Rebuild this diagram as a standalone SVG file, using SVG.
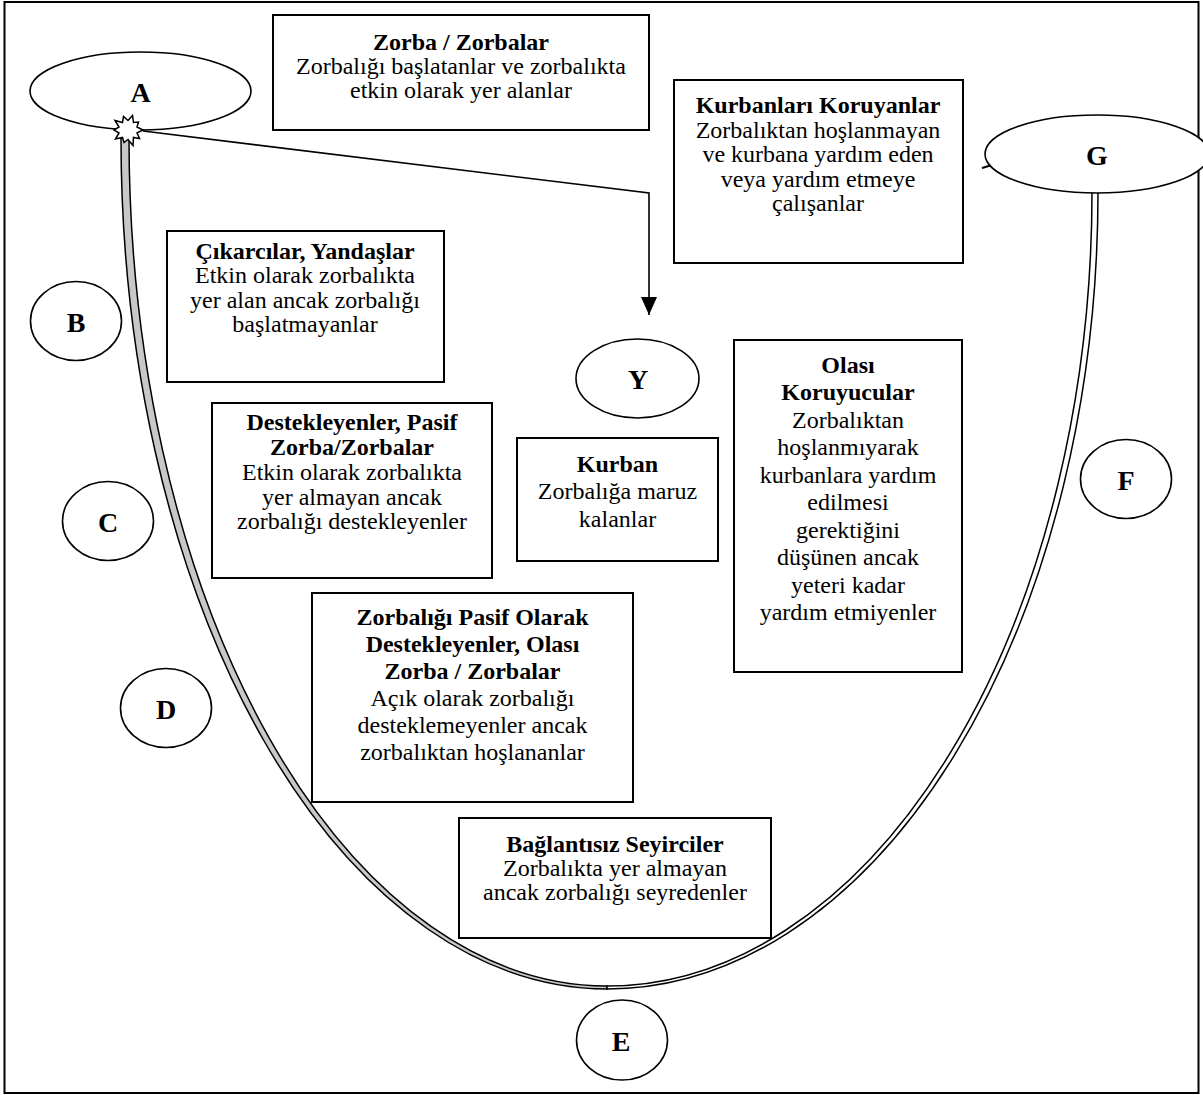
<svg xmlns="http://www.w3.org/2000/svg" width="1203" height="1095" viewBox="0 0 1203 1095">
<defs>
<style>
.frame{fill:#fff;stroke:#000;stroke-width:2}
.box{fill:#fff;stroke:#000;stroke-width:2}
.ell{fill:#fff;stroke:#000;stroke-width:1.6}
.t{font-family:"Liberation Serif","Times New Roman",serif;font-size:24px;fill:#000;text-anchor:middle}
.b{font-weight:bold}
.lbl{font-family:"Liberation Serif","Times New Roman",serif;font-size:28px;font-weight:bold;fill:#000;text-anchor:middle}
.conn{fill:none;stroke:#000;stroke-width:1.6}
</style>
<marker id="arr" markerUnits="userSpaceOnUse" markerWidth="18" markerHeight="16" refX="18" refY="8" orient="auto" viewBox="0 0 18 16">
<path d="M0,0 L18,8 L0,16 Z" fill="#000"/>
</marker>
</defs>
<rect class="frame" x="4.5" y="2" width="1194" height="1091"/>

<g id="curve">
<path d="M121,138 A486,851 0 0 0 607,989 L607,986 A478,848 0 0 1 129,138 Z" fill="#c8c8c8" stroke="#000" stroke-width="1.5"/>
<path d="M607,989 A491,797 0 0 0 1098,192 L1092,192 A485,794 0 0 1 607,986 Z" fill="#fff" stroke="#000" stroke-width="1.5"/>
<path d="M982,168 L992,165" stroke="#000" stroke-width="2" fill="none"/>
</g>

<g id="connectors">
<polyline class="conn" points="143,131 649,193 649,315" marker-end="url(#arr)"/>
</g>

<g id="node-A"><ellipse class="ell" cx="140.5" cy="91" rx="110.5" ry="39"/><text class="lbl" x="140.5" y="102">A</text></g>

<g id="star">
<polygon points="143,130 137,132.8 139.5,138.5 133.5,137.5 133,145.5 128,139.5 124,142.5 122.5,137.5 115.5,139 119,133 114,130 119,127 115,120.5 122.5,122.5 123.5,116.5 128,120.5 132.5,115.5 133.5,122.5 138.5,122 137,127" fill="#fff" stroke="#000" stroke-width="1.5" stroke-linejoin="miter"/>
</g>

<g id="node-B"><ellipse class="ell" cx="76" cy="321" rx="45.5" ry="39.5"/><text class="lbl" x="76" y="332">B</text></g>
<g id="node-C"><ellipse class="ell" cx="108" cy="521" rx="45.5" ry="39.5"/><text class="lbl" x="108" y="532">C</text></g>
<g id="node-D"><ellipse class="ell" cx="166" cy="708" rx="45.5" ry="39.5"/><text class="lbl" x="166" y="719">D</text></g>
<g id="node-E"><ellipse class="ell" cx="622" cy="1040" rx="45.5" ry="40"/><text class="lbl" x="621" y="1051">E</text></g>
<g id="node-F"><ellipse class="ell" cx="1126" cy="479" rx="45.5" ry="39.5"/><text class="lbl" x="1126" y="490">F</text></g>
<g id="node-G"><ellipse class="ell" cx="1097" cy="154" rx="112" ry="39"/><text class="lbl" x="1097" y="165">G</text></g>
<g id="node-Y"><ellipse class="ell" cx="637.5" cy="378.5" rx="61.5" ry="39.5"/><text class="lbl" x="638" y="389">Y</text></g>

<g id="box-zorba">
<rect class="box" x="273" y="15" width="376" height="115"/>
<text class="t b" x="461" y="49.5">Zorba / Zorbalar</text>
<text class="t" x="461" y="73.5">Zorbalığı başlatanlar ve zorbalıkta</text>
<text class="t" x="461" y="97.5">etkin olarak yer alanlar</text>
</g>

<g id="box-koruyanlar">
<rect class="box" x="674" y="80" width="289" height="183"/>
<text class="t b" x="818" y="113">Kurbanları Koruyanlar</text>
<text class="t" x="818" y="138">Zorbalıktan hoşlanmayan</text>
<text class="t" x="818" y="162">ve kurbana yardım eden</text>
<text class="t" x="818" y="187">veya yardım etmeye</text>
<text class="t" x="818" y="211">çalışanlar</text>
</g>

<g id="box-cikarcilar">
<rect class="box" x="167" y="231" width="277" height="151"/>
<text class="t b" x="305" y="259">Çıkarcılar, Yandaşlar</text>
<text class="t" x="305" y="283">Etkin olarak zorbalıkta</text>
<text class="t" x="305" y="308">yer alan ancak zorbalığı</text>
<text class="t" x="305" y="332">başlatmayanlar</text>
</g>

<g id="box-destekleyenler">
<rect class="box" x="212" y="403" width="280" height="175"/>
<text class="t b" x="352" y="430">Destekleyenler, Pasif</text>
<text class="t b" x="352" y="455">Zorba/Zorbalar</text>
<text class="t" x="352" y="480">Etkin olarak zorbalıkta</text>
<text class="t" x="352" y="505">yer almayan ancak</text>
<text class="t" x="352" y="529">zorbalığı destekleyenler</text>
</g>

<g id="box-kurban">
<rect class="box" x="517" y="438" width="201" height="123"/>
<text class="t b" x="617.5" y="472">Kurban</text>
<text class="t" x="617.5" y="499">Zorbalığa maruz</text>
<text class="t" x="617.5" y="527">kalanlar</text>
</g>

<g id="box-olasi">
<rect class="box" x="734" y="340" width="228" height="332"/>
<text class="t b" x="848" y="373">Olası</text>
<text class="t b" x="848" y="400">Koruyucular</text>
<text class="t" x="848" y="428">Zorbalıktan</text>
<text class="t" x="848" y="455">hoşlanmıyarak</text>
<text class="t" x="848" y="483">kurbanlara yardım</text>
<text class="t" x="848" y="510">edilmesi</text>
<text class="t" x="848" y="538">gerektiğini</text>
<text class="t" x="848" y="565">düşünen ancak</text>
<text class="t" x="848" y="593">yeteri kadar</text>
<text class="t" x="848" y="620">yardım etmiyenler</text>
</g>

<g id="box-pasif">
<rect class="box" x="312" y="593" width="321" height="209"/>
<text class="t b" x="472.5" y="625">Zorbalığı Pasif Olarak</text>
<text class="t b" x="472.5" y="652">Destekleyenler, Olası</text>
<text class="t b" x="472.5" y="679">Zorba / Zorbalar</text>
<text class="t" x="472.5" y="706">Açık olarak zorbalığı</text>
<text class="t" x="472.5" y="733">desteklemeyenler ancak</text>
<text class="t" x="472.5" y="760">zorbalıktan hoşlananlar</text>
</g>

<g id="box-seyirciler">
<rect class="box" x="459" y="818" width="312" height="120"/>
<text class="t b" x="615" y="852">Bağlantısız Seyirciler</text>
<text class="t" x="615" y="876">Zorbalıkta yer almayan</text>
<text class="t" x="615" y="900">ancak zorbalığı seyredenler</text>
</g>
</svg>
